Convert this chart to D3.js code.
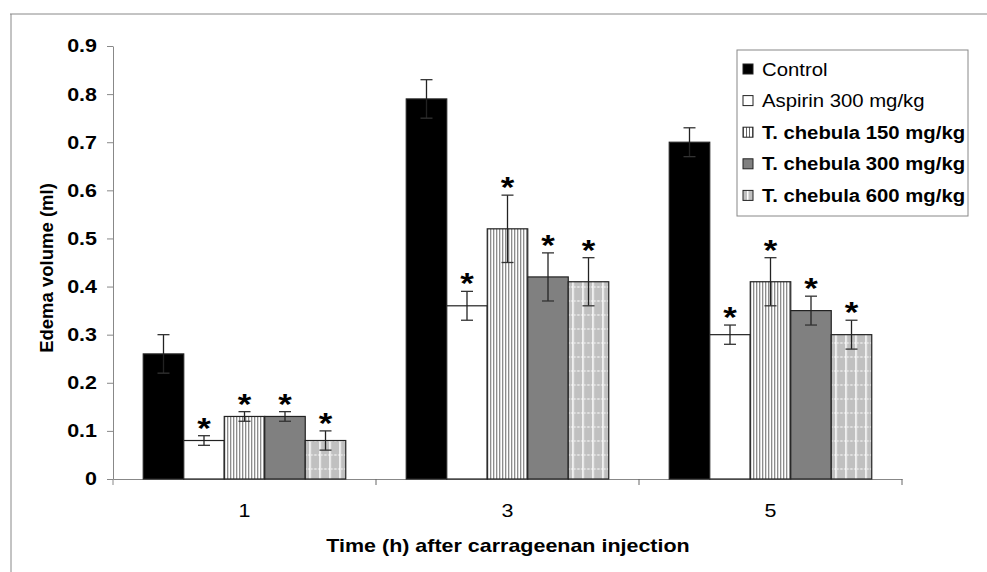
<!DOCTYPE html>
<html>
<head>
<meta charset="utf-8">
<script src="https://cdn.jsdelivr.net/npm/d3@7"></script>
<style>
  body { margin: 0; background: #fff; }
  svg { font-family: "Liberation Sans", Arial, sans-serif; }
  .tick text { font-size: 18.5px; font-weight: bold; fill: #000; }
  .x-axis .tick text { font-weight: normal; }
</style>
</head>
<body>
<div id="vis"></div>
<script>
const times = ['1', '3', '5'];
const groups = ['Control', 'Aspirin 300 mg/kg', 'T. chebula 150 mg/kg', 'T. chebula 300 mg/kg', 'T. chebula 600 mg/kg'];
const control = [0.26, 0.79, 0.70];
const aspirin = [0.08, 0.36, 0.30];
const tc150 = [0.13, 0.52, 0.41];
const tc300 = [0.13, 0.42, 0.35];
const tc600 = [0.08, 0.41, 0.30];
const errControl = [0.04, 0.04, 0.03];
const errAspirin = [0.01, 0.03, 0.02];
const errTc150 = [0.01, 0.07, 0.05];
const errTc300 = [0.01, 0.05, 0.03];
const errTc600 = [0.02, 0.05, 0.03];
const yTicks = [0, 0.1, 0.2, 0.3, 0.4, 0.5, 0.6, 0.7, 0.8, 0.9];

const series = [control, aspirin, tc150, tc300, tc600];
const errors = [errControl, errAspirin, errTc150, errTc300, errTc600];
const fills = ['#000', '#fff', 'url(#stripes)', '#808080', 'url(#dots)'];
const boldLegend = [false, false, true, true, true];

const W = 987, H = 572;
const svg = d3.select('#vis').append('svg').attr('width', W).attr('height', H);

// patterns
const defs = svg.append('defs');
const stripes = defs.append('pattern').attr('id', 'stripes')
    .attr('patternUnits', 'userSpaceOnUse').attr('width', 3).attr('height', 10);
stripes.append('rect').attr('width', 3).attr('height', 10).attr('fill', '#fff');
stripes.append('rect').attr('x', 0).attr('width', 1).attr('height', 10).attr('fill', '#666');

const dots = defs.append('pattern').attr('id', 'dots')
    .attr('patternUnits', 'userSpaceOnUse').attr('width', 10).attr('height', 14);
dots.append('rect').attr('width', 10).attr('height', 14).attr('fill', '#c0c0c0');
dots.append('rect').attr('x', 4).attr('width', 1.5).attr('height', 14).attr('fill', '#fff');
dots.append('line').attr('x1', 0).attr('x2', 10).attr('y1', 7).attr('y2', 7)
    .attr('stroke', '#fff').attr('stroke-width', 1).attr('stroke-dasharray', '1.5,1.5');

// outer frame (top + left)
svg.append('line').attr('x1', 10).attr('x2', W).attr('y1', 14).attr('y2', 14).attr('stroke', '#888');
svg.append('line').attr('x1', 11).attr('x2', 11).attr('y1', 14).attr('y2', H).attr('stroke', '#888');

const x0 = d3.scaleBand().domain(times).range([113, 902]);
const gw = x0.bandwidth();
const x1 = d3.scaleBand().domain(groups).range([gw * 0.115, gw * 0.885]);
const y = d3.scaleLinear().domain([0, 0.9]).range([479, 46]);

// axes
const yAxis = d3.axisLeft(y).tickValues(yTicks).tickFormat(d => d === 0 ? '0' : d3.format('.1f')(d))
    .tickSize(6).tickSizeOuter(0);
const gy = svg.append('g').attr('transform', 'translate(113,0)').call(yAxis);
gy.selectAll('line, path').attr('stroke', '#888');
gy.selectAll('text').attr('x', -16);
gy.append('line').attr('y1', y(0)).attr('y2', y(0) + 6).attr('stroke', '#888');

const xAxis = d3.axisBottom(x0).tickSize(0).tickSizeOuter(0);
const gx = svg.append('g').attr('class', 'x-axis').attr('transform', 'translate(0,479)').call(xAxis);
gx.select('.domain').attr('stroke', '#888');
gx.selectAll('text').attr('dy', 0).attr('y', 38);
// category separator ticks
gx.selectAll('.sep').data(times).join('line').attr('class', 'sep')
    .attr('x1', d => x0(d) + gw).attr('x2', d => x0(d) + gw)
    .attr('y1', 0).attr('y2', 6).attr('stroke', '#666');

// bars
const rows = [];
times.forEach((t, i) => groups.forEach((g, j) => rows.push({t, g, j, v: series[j][i], e: errors[j][i]})));

const bars = svg.append('g').selectAll('g').data(rows).join('g')
    .attr('transform', d => `translate(${x0(d.t) + x1(d.g)},0)`);
bars.append('rect')
    .attr('y', d => y(d.v)).attr('width', x1.bandwidth()).attr('height', d => y(0) - y(d.v))
    .attr('fill', d => fills[d.j]).attr('stroke', '#222').attr('stroke-width', 1.2);

const bw = x1.bandwidth();
bars.append('line').attr('x1', bw / 2).attr('x2', bw / 2)
    .attr('y1', d => y(d.v - d.e)).attr('y2', d => y(d.v + d.e)).attr('stroke', '#222').attr('stroke-width', 1.3);
bars.append('line').attr('x1', bw / 2 - 6).attr('x2', bw / 2 + 6)
    .attr('y1', d => y(d.v + d.e)).attr('y2', d => y(d.v + d.e)).attr('stroke', '#333').attr('stroke-width', 1.3);
bars.append('line').attr('x1', bw / 2 - 6).attr('x2', bw / 2 + 6)
    .attr('y1', d => y(d.v - d.e)).attr('y2', d => y(d.v - d.e)).attr('stroke', '#333').attr('stroke-width', 1.3);
bars.filter(d => d.j > 0).append('text')
    .attr('x', bw / 2).attr('y', d => y(d.v + d.e) + 2)
    .attr('text-anchor', 'middle').style('font-size', '30px').style('font-weight', 'bold')
    .text('*');

// axis labels
svg.append('text').attr('class', 'rot').attr('transform', 'rotate(-90)')
    .attr('x', -268).attr('y', 53).attr('text-anchor', 'middle')
    .style('font-size', '18.5px').style('font-weight', 'bold').text('Edema volume (ml)');
svg.append('text').attr('x', 508).attr('y', 552).attr('text-anchor', 'middle')
    .style('font-size', '18.5px').style('font-weight', 'bold').text('Time (h) after carrageenan injection');

// legend
const lg = svg.append('g');
lg.append('rect').attr('x', 737).attr('y', 50).attr('width', 231).attr('height', 166)
    .attr('fill', '#fff').attr('stroke', '#888');
const li = lg.selectAll('.li').data(groups).join('g').attr('class', 'li')
    .attr('transform', (d, i) => `translate(743,${69 + i * 31.6})`);
li.append('rect').attr('x', 0).attr('y', -5).attr('width', 10).attr('height', 10)
    .attr('fill', (d, i) => fills[i]).attr('stroke', '#222');
li.append('text').attr('x', 19).attr('y', 6.5)
    .style('font-size', '17.5px').style('font-weight', (d, i) => boldLegend[i] ? 'bold' : 'normal')
    .text(d => d);

// the original figure is stretched sideways a bit
svg.selectAll('text:not(.rot)').each(function () {
    const len = this.getComputedTextLength();
    d3.select(this).attr('textLength', len * 1.16).attr('lengthAdjust', 'spacingAndGlyphs');
});
</script>
</body>
</html>
